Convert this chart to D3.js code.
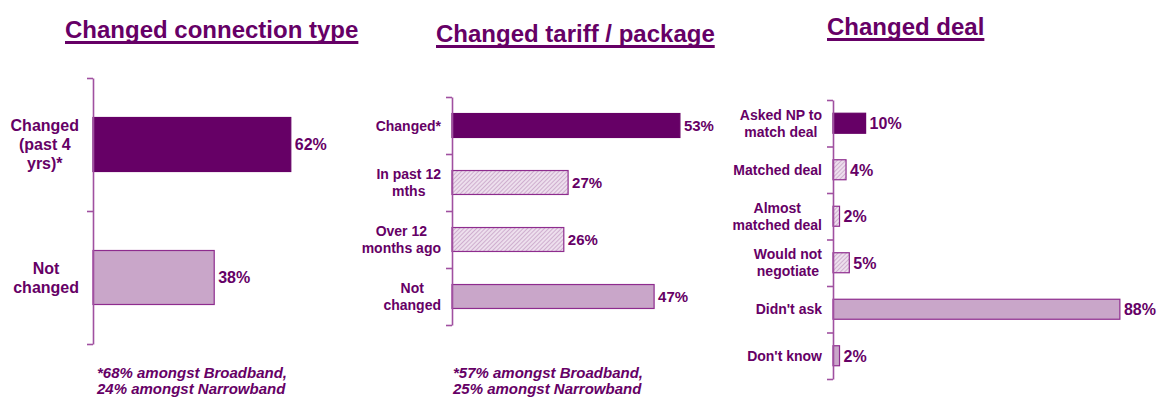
<!DOCTYPE html>
<html>
<head>
<meta charset="utf-8">
<script src="https://cdn.jsdelivr.net/npm/d3@7"></script>
<style>
  html, body { margin: 0; padding: 0; background: #ffffff; }
  svg { display: block; font-family: Arial, "Liberation Sans", sans-serif; }
</style>
</head>
<body>
<svg id="chart" width="1157" height="399"></svg>
<script>
// Survey responses, percent of respondents
const connectionCategories = [["Changed", "(past 4", "yrs)*"], ["Not", "changed"]];
const connectionValues = [62, 38];
const connectionStyles = ["solid", "light"];
const connectionNote = ["*68% amongst Broadband,", "24% amongst Narrowband"];

const tariffCategories = [["Changed*"], ["In past 12", "mths"], ["Over 12", "months ago"], ["Not", "changed"]];
const tariffValues = [53, 27, 26, 47];
const tariffStyles = ["solid", "hatch", "hatch", "light"];
const tariffNote = ["*57% amongst Broadband,", "25% amongst Narrowband"];

const dealCategories = [["Asked NP to", "match deal"], ["Matched deal"], ["Almost", "matched deal"],
                        ["Would not", "negotiate"], ["Didn't ask"], ["Don't know"]];
const dealValues = [10, 4, 2, 5, 88, 2];
const dealStyles = ["solid", "hatch", "hatch", "hatch", "light", "light"];

const titles = ["Changed connection type", "Changed tariff / package", "Changed deal"];

const DARK = "#660066";
const LIGHT = "#c9a6c9";
const EDGE = "#8e2c8e";
const AXIS = "#a050a0";

const svg = d3.select("#chart");

// diagonal hatch used for the sub-breakdown bars
const defs = svg.append("defs");
const pat = defs.append("pattern")
  .attr("id", "hatch")
  .attr("patternUnits", "userSpaceOnUse")
  .attr("width", 3).attr("height", 3)
  .attr("patternTransform", "rotate(45)");
pat.append("rect").attr("width", 3).attr("height", 3).attr("fill", "#eddfed");
pat.append("line").attr("x1", 0).attr("y1", 0).attr("x2", 0).attr("y2", 3)
  .attr("stroke", "#c39ac3").attr("stroke-width", 1.4);

function fillFor(s) {
  return s === "solid" ? DARK : s === "hatch" ? "url(#hatch)" : LIGHT;
}

function title(text, x, baseline) {
  const t = svg.append("text")
    .attr("x", x).attr("y", baseline)
    .attr("fill", DARK)
    .attr("font-size", 24).attr("font-weight", "bold")
    .text(text);
  const w = t.node().getComputedTextLength();
  svg.append("rect")
    .attr("x", x).attr("y", baseline + 3)
    .attr("width", w).attr("height", 3)
    .attr("fill", DARK);
}

function panel(cfg) {
  const n = cfg.categories.length;
  const g = svg.append("g");

  const x = d3.scaleLinear().domain([0, 100]).range([cfg.x0, cfg.x0 + cfg.pxPerPct * 100]);
  const yIdx = d3.scaleLinear().domain([0, n]).range([cfg.y0, cfg.y1]);
  const y = d3.scaleBand()
    .domain(d3.range(n))
    .range([cfg.y0, cfg.y1])
    .paddingInner(cfg.pad).paddingOuter(cfg.pad / 2);

  // bars
  g.selectAll("rect.bar")
    .data(cfg.values)
    .join("rect")
    .attr("class", "bar")
    .attr("x", x(0))
    .attr("y", (d, i) => y(i))
    .attr("width", d => x(d) - x(0))
    .attr("height", y.bandwidth())
    .attr("fill", (d, i) => fillFor(cfg.styles[i]))
    .attr("stroke", (d, i) => cfg.styles[i] === "solid" ? DARK : EDGE)
    .attr("stroke-width", 1.2);

  // category axis with ticks on the band boundaries
  const axis = g.append("g")
    .attr("transform", `translate(${cfg.x0},0)`)
    .call(d3.axisLeft(yIdx).tickValues(d3.range(n + 1)).tickSize(6).tickSizeOuter(0).tickFormat(""));
  axis.selectAll("path, line").attr("stroke", AXIS).attr("stroke-width", 1.6);

  // value labels
  g.selectAll("text.val")
    .data(cfg.values)
    .join("text")
    .attr("class", "val")
    .attr("x", d => x(d) + 4)
    .attr("y", (d, i) => y(i) + y.bandwidth() / 2)
    .attr("dy", "0.36em")
    .attr("fill", DARK)
    .attr("font-size", cfg.valSize).attr("font-weight", "bold")
    .text(d => d + "%");

  // category labels: a right-aligned block with centred lines
  cfg.categories.forEach((lines, i) => {
    const cy = y(i) + y.bandwidth() / 2;
    const lbl = g.append("text")
      .attr("fill", DARK)
      .attr("font-size", cfg.catSize).attr("font-weight", "bold")
      .attr("text-anchor", "middle");
    const spans = lines.map((s, k) => lbl.append("tspan")
      .attr("y", cy + (k - (lines.length - 1) / 2) * cfg.lineH)
      .attr("dy", "0.36em")
      .text(s));
    const maxW = d3.max(spans, s => s.node().getComputedTextLength());
    const cx = cfg.x0 - cfg.labelGap - maxW / 2;
    spans.forEach(s => s.attr("x", cx));
  });

  // footnote
  if (cfg.note) {
    const t = g.append("text")
      .attr("fill", DARK)
      .attr("font-size", 15).attr("font-weight", "bold").attr("font-style", "italic");
    cfg.note.forEach((s, k) => t.append("tspan")
      .attr("x", cfg.noteX).attr("y", 378 + k * 16).text(s));
  }
}

title(titles[0], 65, 38);
title(titles[1], 436, 42);
title(titles[2], 827, 35);

panel({
  categories: connectionCategories, values: connectionValues, styles: connectionStyles,
  x0: 93, y0: 78, y1: 344, pxPerPct: 3.19, pad: 0.594,
  catSize: 16, lineH: 19, valSize: 16, labelGap: 14,
  note: connectionNote, noteX: 97
});

panel({
  categories: tariffCategories, values: tariffValues, styles: tariffStyles,
  x0: 452, y0: 97, y1: 325, pxPerPct: 4.3, pad: 0.58,
  catSize: 14, lineH: 17, valSize: 15, labelGap: 11,
  note: tariffNote, noteX: 453
});

panel({
  categories: dealCategories, values: dealValues, styles: dealStyles,
  x0: 833, y0: 100, y1: 379, pxPerPct: 3.26, pad: 0.57,
  catSize: 14, lineH: 17, valSize: 16, labelGap: 11
});
</script>
</body>
</html>
